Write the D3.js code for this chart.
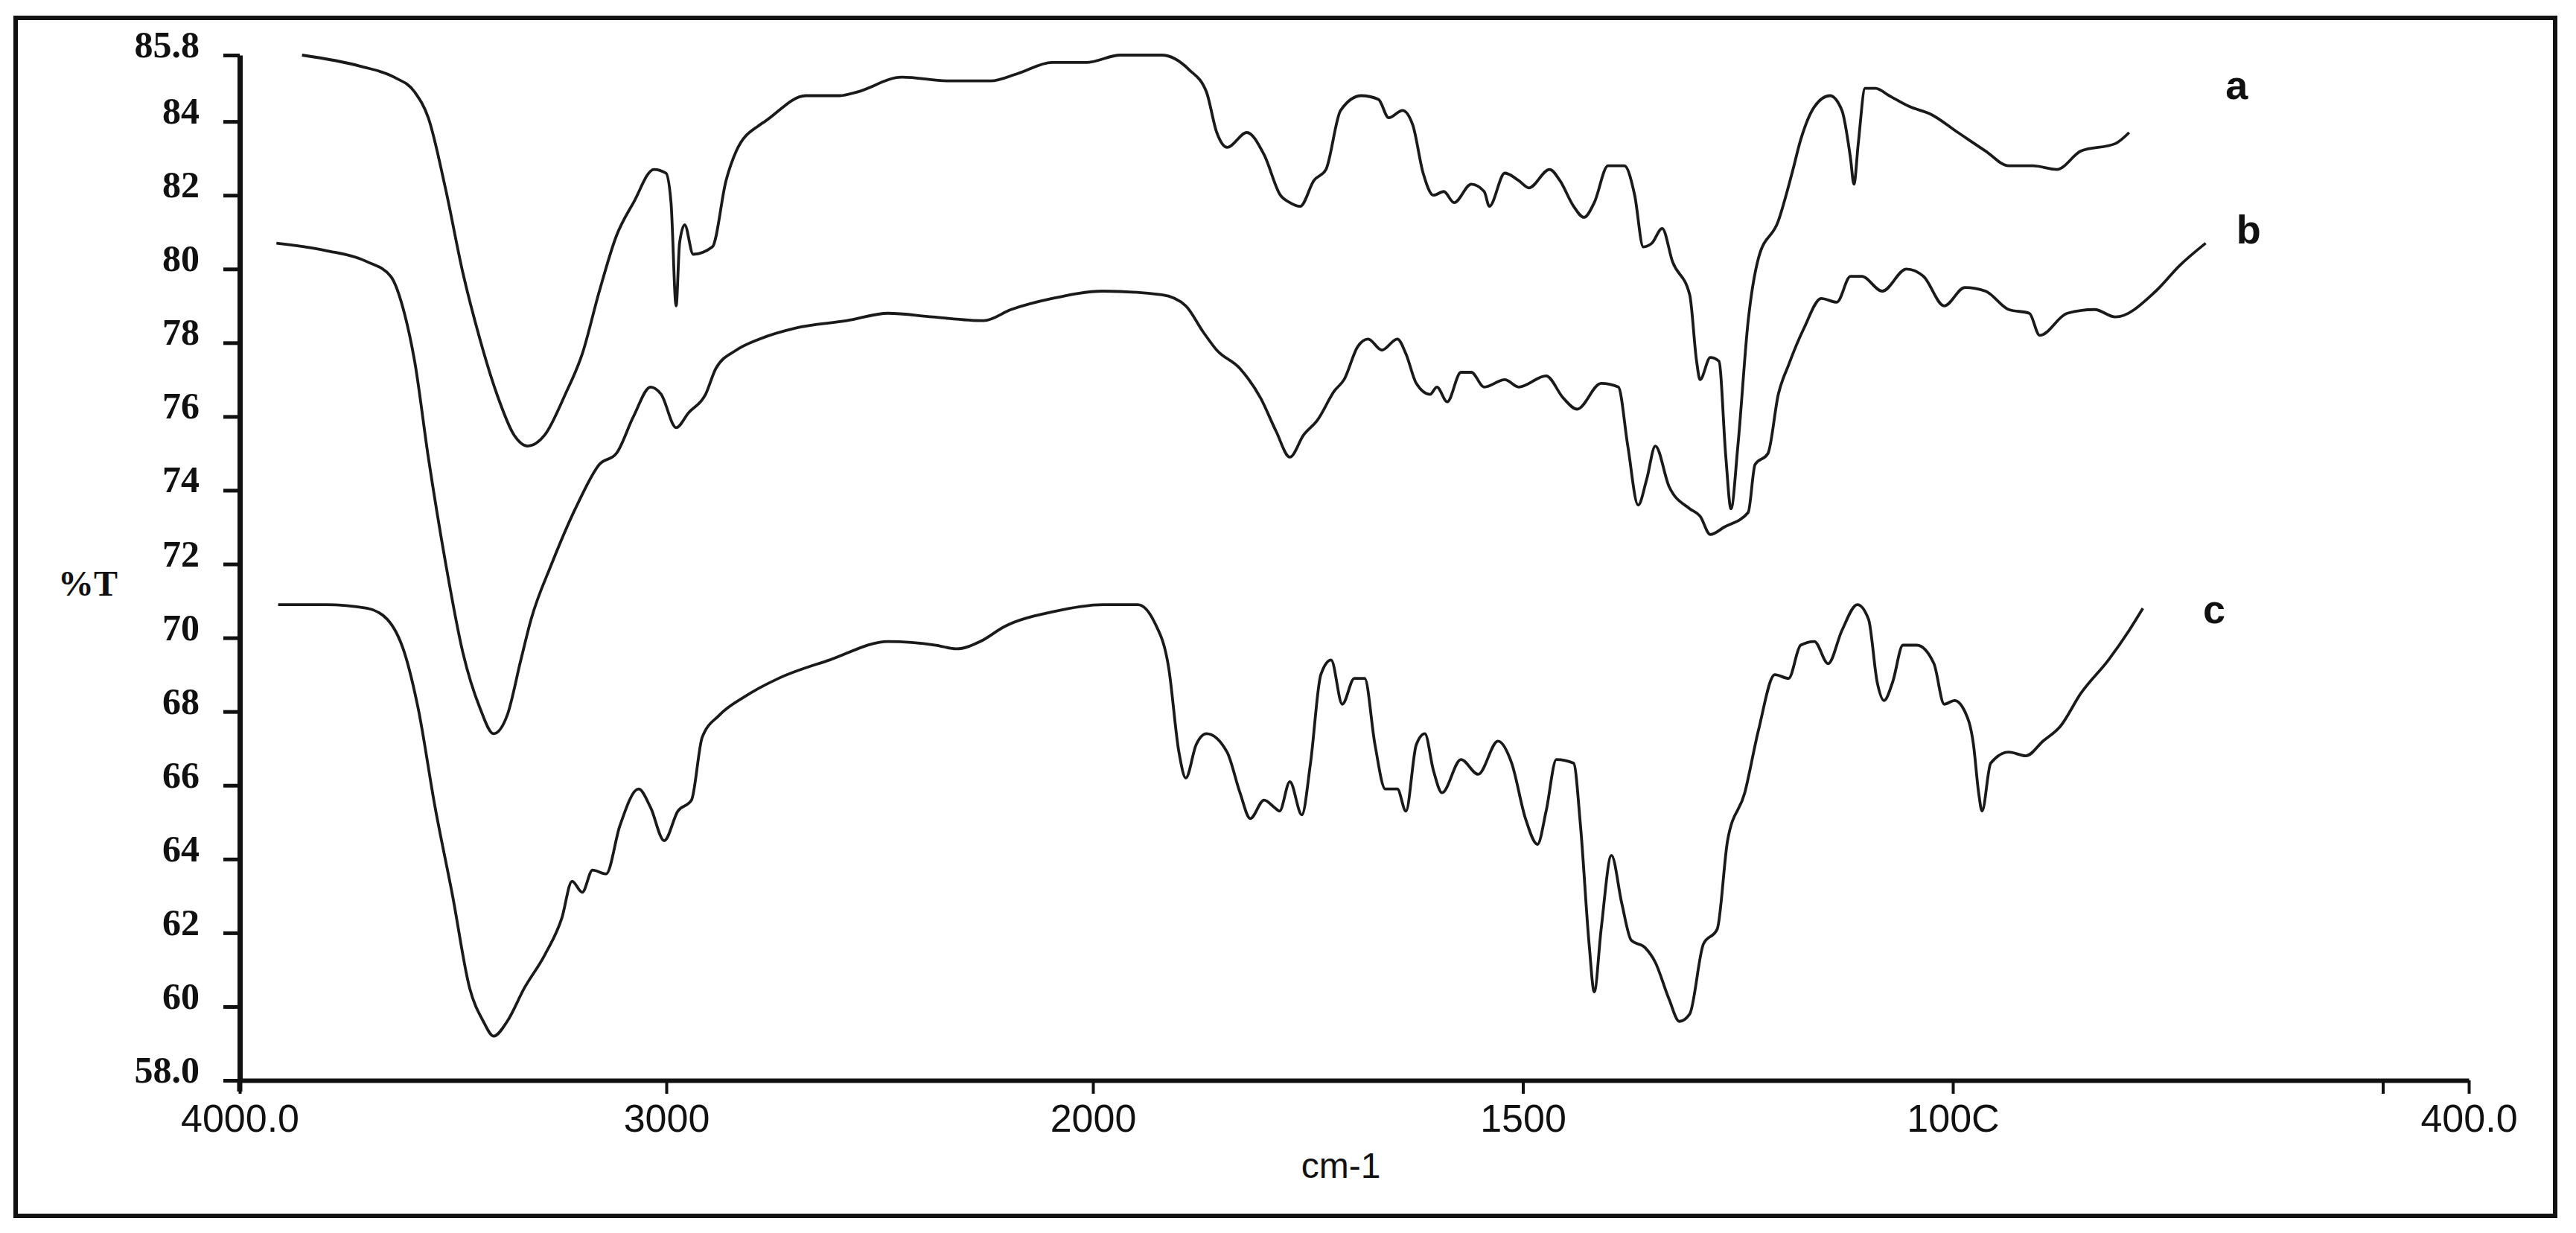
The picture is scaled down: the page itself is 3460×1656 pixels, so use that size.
<!DOCTYPE html>
<html>
<head>
<meta charset="utf-8">
<script src="https://cdn.jsdelivr.net/npm/d3@7"></script>
<style>
  body { margin: 0; background: #fff; }
  svg { display: block; }
</style>
</head>
<body>
<svg id="chart"></svg>
<script>
const width = 3460, height = 1656;

// spectra: [wavenumber cm-1, %T]
const curveA = [
  [3854, 85.8], [3718, 85.5], [3638, 85.2], [3590, 84.8], [3558, 84.1], [3518, 82.2],
  [3477, 79.9], [3437, 78.1], [3397, 76.6], [3357, 75.5], [3325, 75.2], [3285, 75.5],
  [3237, 76.6], [3197, 77.7], [3157, 79.4], [3117, 80.9], [3077, 81.8], [3029, 82.7],
  [3001, 82.6], [2989, 81.8], [2977, 79.0], [2969, 80.7], [2957, 81.2], [2937, 80.4],
  [2892, 80.6], [2860, 82.4], [2836, 83.2], [2782, 83.9], [2769, 84.0], [2673, 84.7],
  [2593, 84.7], [2553, 84.8], [2448, 85.2], [2336, 85.1], [2240, 85.1], [2176, 85.3],
  [2096, 85.6], [2016, 85.6], [1968, 85.8], [1920, 85.8], [1888, 85.4], [1868, 84.8],
  [1856, 83.7], [1844, 83.3], [1821, 83.7], [1801, 83.1], [1782, 82.0], [1771, 81.8],
  [1759, 81.7], [1743, 82.4], [1729, 82.7], [1712, 84.3], [1688, 84.7], [1668, 84.6],
  [1656, 84.1], [1640, 84.3], [1628, 83.9], [1616, 82.6], [1604, 82.0], [1592, 82.1],
  [1580, 81.8], [1560, 82.3], [1545, 82.1], [1539, 81.7], [1521, 82.6], [1505, 82.4],
  [1493, 82.2], [1469, 82.7], [1457, 82.4], [1441, 81.7], [1429, 81.4], [1417, 81.8],
  [1401, 82.8], [1382, 82.8], [1370, 82.0], [1360, 80.6], [1350, 80.7], [1338, 81.1],
  [1326, 80.2], [1306, 79.3], [1298, 77.5], [1294, 77.0], [1282, 77.6], [1272, 77.5],
  [1264, 74.9], [1258, 73.5], [1250, 75.2], [1238, 78.6], [1226, 80.3], [1203, 81.3],
  [1187, 82.6], [1177, 83.5], [1161, 84.4], [1143, 84.7], [1129, 84.3], [1119, 83.0],
  [1115, 82.3], [1110, 83.4], [1102, 84.9], [1090, 84.9], [1074, 84.7], [1050, 84.4],
  [1026, 84.2], [994, 83.7], [962, 83.2], [935, 82.8], [907, 82.8], [879, 82.7],
  [851, 83.2], [811, 83.4], [795, 83.7]
];

const curveB = [
  [3914, 80.7], [3798, 80.5], [3702, 80.2], [3646, 79.8], [3614, 78.8], [3590, 77.5],
  [3558, 74.9], [3517, 72.0], [3477, 69.6], [3437, 68.1], [3405, 67.4], [3373, 67.9],
  [3341, 69.4], [3317, 70.5], [3269, 72.0], [3205, 73.7], [3157, 74.7], [3117, 75.0],
  [3077, 76.0], [3037, 76.8], [3012, 76.6], [2977, 75.7], [2948, 76.1], [2908, 76.6],
  [2884, 77.3], [2836, 77.8], [2782, 78.1], [2697, 78.4], [2577, 78.6], [2480, 78.8],
  [2376, 78.7], [2256, 78.6], [2192, 78.9], [2096, 79.2], [1988, 79.4], [1920, 79.3],
  [1892, 79.0], [1872, 78.3], [1856, 77.8], [1829, 77.3], [1805, 76.5], [1787, 75.6],
  [1771, 74.9], [1755, 75.5], [1739, 75.9], [1719, 76.7], [1708, 77.0], [1692, 77.9],
  [1680, 78.1], [1664, 77.8], [1646, 78.1], [1636, 77.7], [1624, 76.9], [1608, 76.6],
  [1600, 76.8], [1588, 76.4], [1572, 77.2], [1560, 77.2], [1545, 76.8], [1521, 77.0],
  [1505, 76.8], [1473, 77.1], [1453, 76.5], [1437, 76.2], [1409, 76.9], [1389, 76.8],
  [1378, 75.2], [1366, 73.6], [1356, 74.3], [1346, 75.2], [1330, 74.1], [1306, 73.5],
  [1294, 73.3], [1282, 72.8], [1266, 73.0], [1238, 73.4], [1230, 74.7], [1215, 75.0],
  [1203, 76.6], [1191, 77.4], [1173, 78.4], [1153, 79.2], [1135, 79.1], [1119, 79.8],
  [1106, 79.8], [1082, 79.4], [1054, 80.0], [1034, 79.8], [1010, 79.0], [986, 79.5],
  [962, 79.4], [935, 78.9], [911, 78.8], [899, 78.2], [867, 78.8], [835, 78.9],
  [811, 78.7], [764, 79.4], [736, 80.1], [706, 80.7]
];

const curveC = [
  [3910, 70.9], [3798, 70.9], [3702, 70.8], [3654, 70.5], [3614, 69.6], [3582, 68.1],
  [3542, 65.4], [3501, 63.0], [3461, 60.5], [3429, 59.6], [3405, 59.2], [3373, 59.6],
  [3333, 60.5], [3285, 61.4], [3245, 62.4], [3221, 63.4], [3197, 63.1], [3173, 63.7],
  [3141, 63.6], [3109, 64.9], [3065, 65.9], [3037, 65.4], [3005, 64.5], [2973, 65.3],
  [2941, 65.6], [2916, 67.3], [2876, 67.9], [2817, 68.4], [2737, 68.9], [2617, 69.4],
  [2480, 69.9], [2368, 69.8], [2320, 69.7], [2264, 69.9], [2208, 70.3], [2096, 70.7],
  [1988, 70.9], [1948, 70.9], [1928, 70.4], [1912, 69.2], [1900, 66.9], [1892, 66.2],
  [1880, 67.1], [1868, 67.4], [1844, 66.9], [1829, 65.8], [1817, 65.1], [1801, 65.6],
  [1789, 65.4], [1783, 65.3], [1771, 66.1], [1757, 65.2], [1747, 66.6], [1735, 69.0],
  [1723, 69.4], [1710, 68.2], [1696, 68.9], [1684, 68.9], [1672, 67.1], [1660, 65.9],
  [1646, 65.9], [1636, 65.3], [1624, 67.1], [1614, 67.4], [1604, 66.4], [1594, 65.8],
  [1572, 66.7], [1552, 66.3], [1529, 67.2], [1513, 66.6], [1497, 65.1], [1483, 64.4],
  [1473, 65.3], [1461, 66.7], [1441, 66.6], [1433, 64.9], [1423, 61.7], [1417, 60.4],
  [1409, 62.1], [1397, 64.1], [1385, 62.8], [1374, 61.8], [1358, 61.6], [1346, 61.2],
  [1330, 60.2], [1318, 59.6], [1306, 59.8], [1290, 61.7], [1274, 62.1], [1262, 64.5],
  [1242, 65.8], [1226, 67.5], [1207, 69.0], [1191, 68.9], [1177, 69.8], [1161, 69.9],
  [1145, 69.3], [1129, 70.2], [1111, 70.9], [1098, 70.5], [1088, 68.8], [1080, 68.3],
  [1070, 68.8], [1058, 69.8], [1042, 69.8], [1022, 69.3], [1010, 68.2], [998, 68.3],
  [986, 68.0], [976, 67.1], [970, 65.8], [966, 65.3], [956, 66.6], [935, 66.9],
  [915, 66.8], [895, 67.2], [875, 67.6], [851, 68.5], [819, 69.4], [795, 70.2], [779, 70.8]
];

const seriesNames = ["a", "b", "c"];
// where the letters sit, in data units
const seriesLabelWn = [670, 656, 696];
const seriesLabelT = [84.6, 80.7, 70.4];

const xTickValues = [4000, 3000, 2000, 1500, 1000, 500, 400];
const xTickLabels = ["4000.0", "3000", "2000", "1500", "100C", "", "400.0"];
const yTickValues = [58, 60, 62, 64, 66, 68, 70, 72, 74, 76, 78, 80, 82, 84, 85.8];
const yTickLabels = ["58.0", "60", "62", "64", "66", "68", "70", "72", "74", "76", "78", "80", "82", "84", "85.8"];

const svg = d3.select("#chart")
              .attr("width", width)
              .attr("height", height);

svg.append("rect")
   .attr("width", width)
   .attr("height", height)
   .attr("fill", "#fff");

// outer frame
svg.append("rect")
   .attr("x", 21).attr("y", 24)
   .attr("width", 3411).attr("height", 1609)
   .attr("fill", "none")
   .attr("stroke", "#111")
   .attr("stroke-width", 6);

// wavenumber axis is expanded 2x below 2000 cm-1
const x = d3.scaleLinear()
            .domain([4000, 2000, 400])
            .range([322, 1468, 3316]);

const y = d3.scaleLinear()
            .domain([58, 85.8])
            .range([1451, 74]);

const line = d3.line()
               .x(d => x(d[0]))
               .y(d => y(d[1]))
               .curve(d3.curveMonotoneX);

[curveA, curveB, curveC].forEach(c => {
    svg.append("path")
       .datum(c)
       .attr("d", line)
       .attr("fill", "none")
       .attr("stroke", "#1a1a1a")
       .attr("stroke-width", 3.8)
       .attr("stroke-linejoin", "round");
});

svg.selectAll(".series-label")
   .data(seriesNames)
   .enter()
   .append("text")
   .attr("class", "series-label")
   .attr("x", (d, i) => x(seriesLabelWn[i]))
   .attr("y", (d, i) => y(seriesLabelT[i]))
   .attr("text-anchor", "middle")
   .style("font-family", "'Liberation Sans', Arial, sans-serif")
   .style("font-weight", "bold")
   .style("font-size", "54px")
   .attr("fill", "#111")
   .text(d => d);

// y axis
const yAxis = svg.append("g")
                 .attr("transform", "translate(322,0)")
                 .call(d3.axisLeft(y)
                         .tickValues(yTickValues)
                         .tickFormat((d, i) => yTickLabels[i])
                         .tickSize(22)
                         .tickSizeOuter(0)
                         .tickPadding(32));
yAxis.select(".domain").attr("stroke", "#111").attr("stroke-width", 7);
yAxis.selectAll(".tick line").attr("stroke", "#111").attr("stroke-width", 5);
yAxis.selectAll(".tick text")
     .attr("dy", "0.05em")
     .style("font-family", "'Liberation Serif', 'Times New Roman', serif")
     .style("font-weight", "bold")
     .style("font-size", "50px")
     .attr("fill", "#111");
// the vertical axis runs a little past the horizontal one
yAxis.append("line")
     .attr("y1", y(58)).attr("y2", y(58) + 15)
     .attr("stroke", "#111")
     .attr("stroke-width", 7);

// x axis
const xAxis = svg.append("g")
                 .attr("transform", "translate(0,1451)")
                 .call(d3.axisBottom(x)
                         .tickValues(xTickValues)
                         .tickFormat((d, i) => xTickLabels[i])
                         .tickSize(18)
                         .tickSizeOuter(0)
                         .tickPadding(14));
xAxis.select(".domain").attr("stroke", "#111").attr("stroke-width", 6);
xAxis.selectAll(".tick line").attr("stroke", "#111").attr("stroke-width", 4);
xAxis.selectAll(".tick text")
     .style("font-family", "'Liberation Sans', Arial, sans-serif")
     .style("font-size", "52px")
     .attr("fill", "#111");

// axis titles
svg.append("text")
   .attr("x", 118).attr("y", 800)
   .attr("text-anchor", "middle")
   .style("font-family", "'Liberation Serif', 'Times New Roman', serif")
   .style("font-weight", "bold")
   .style("font-size", "48px")
   .attr("fill", "#111")
   .text("%T");

svg.append("text")
   .attr("x", 1801).attr("y", 1582)
   .attr("text-anchor", "middle")
   .style("font-family", "'Liberation Sans Narrow', 'Liberation Sans', Arial, sans-serif")
   .style("font-size", "48px")
   .attr("fill", "#111")
   .text("cm-1");
</script>
</body>
</html>
